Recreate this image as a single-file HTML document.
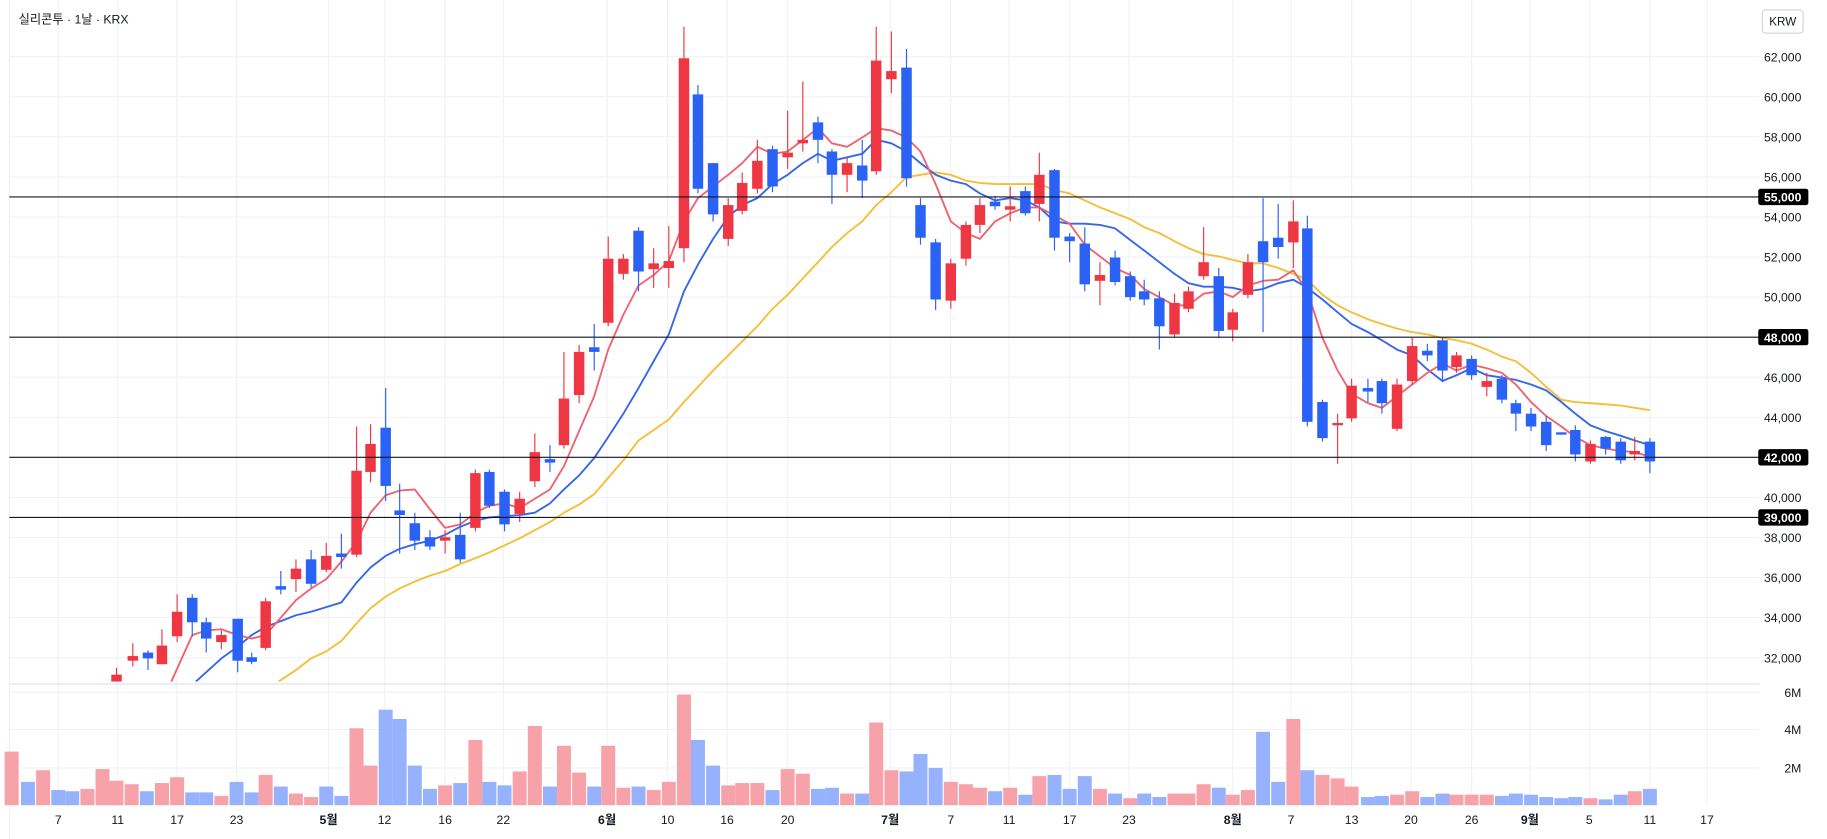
<!DOCTYPE html>
<html><head><meta charset="utf-8"><style>
html,body{margin:0;padding:0;background:#fff;}
svg{display:block;font-family:"Liberation Sans","Noto Sans CJK KR",sans-serif;}
</style></head><body>
<svg id="c" width="1827" height="839" viewBox="0 0 1568 720" preserveAspectRatio="none" xmlns="http://www.w3.org/2000/svg"></svg>
<script>
const s=document.getElementById('c');let h='';
const Y=p=>169+(55000-p)*0.01719;
// grid
h+='<rect x="0" y="0" width="1568" height="720" fill="#fff"/>';
const vx=[50,101,152,203,282,330,382,432,521,573,624,676,764,816,866,918,969,1058,1108,1160,1211,1263,1313,1364,1416,1465];
vx.forEach(x=>h+=`<line x1="${x}" y1="0" x2="${x}" y2="691" stroke="#f0f2f6"/>`);
for(let p=32000;p<=62000;p+=2000){const y=Y(p);h+=`<line x1="8" y1="${y}" x2="1510" y2="${y}" stroke="#f0f2f6"/>`;
h+=`<text x="1546" y="${y+4}" font-size="10.5" fill="#131722" text-anchor="end">${p.toLocaleString('en-US')}</text>`;}
[594,626,659].forEach((y,i)=>{h+=`<line x1="8" y1="${y}" x2="1510" y2="${y}" stroke="#f0f2f6"/>`;h+=`<text x="1546" y="${y+4}" font-size="10.5" fill="#131722" text-anchor="end">${6-2*i}M</text>`;});
h+='<line x1="8" y1="587" x2="1510" y2="587" stroke="#e0e3eb"/>';
h+='<line x1="8" y1="0" x2="8" y2="720" stroke="#f0f2f6"/>';
// volume
const V=[[10,645,1],[24,671,0],[37,661,1],[50,678,0],[62,679,0],[75,677,1],[88,660,1],[100,670,1],[113,673,1],[126,679,0],[139,672,1],[152,667,1],[165,680,0],[177,680,0],[190,683,1],[203,671,0],[216,680,0],[228,665,1],[241,675,0],[254,681,1],[267,684,1],[280,675,0],[293,683,0],[306,625,1],[318,657,1],[331,609,0],[343,617,0],[356,657,0],[369,677,0],[382,674,1],[395,672,0],[408,635,1],[420,671,0],[433,674,0],[446,662,1],[459,623,1],[472,675,0],[484,640,1],[497,663,1],[510,675,0],[522,640,1],[535,676,1],[548,675,0],[561,678,1],[574,671,1],[587,596,1],[599,635,0],[612,657,0],[625,674,1],[637,672,1],[650,672,1],[663,678,0],[676,660,1],[689,664,1],[702,677,0],[714,676,0],[727,681,1],[740,681,0],[752,620,1],[765,661,1],[778,662,0],[790,647,0],[803,659,0],[816,671,1],[829,673,1],[841,676,1],[854,679,0],[867,676,1],[880,682,0],[892,666,1],[905,665,0],[918,677,0],[931,666,0],[944,677,1],[957,681,0],[970,685,1],[982,681,0],[995,684,0],[1008,681,1],[1020,681,1],[1033,673,1],[1046,676,0],[1058,682,1],[1071,678,1],[1084,628,0],[1097,671,0],[1110,617,1],[1122,661,0],[1135,665,1],[1148,668,1],[1160,675,1],[1174,684,0],[1186,683,0],[1199,682,1],[1212,679,1],[1225,684,0],[1238,681,0],[1250,682,1],[1263,682,1],[1276,682,1],[1289,683,0],[1301,681,0],[1314,682,0],[1327,684,0],[1340,685,0],[1352,684,0],[1365,685,1],[1378,686,0],[1391,682,0],[1403,679,1],[1416,677,0]];
V.forEach(([x,y,r])=>h+=`<rect x="${x-6}" y="${y}" width="12" height="${691-y}" fill="${r?'#f7a1a9':'#97b2fc'}"/>`);
// MAs
const line=(pts,c)=>{h+=`<polyline fill="none" stroke="${c}" stroke-width="1.6" stroke-linejoin="round" points="${pts.map(p=>p.join(',')).join(' ')}" clip-path="url(#cp)"/>`;};
h+='<defs><clipPath id="cp"><rect x="0" y="0" width="1510" height="585"/></clipPath></defs>';
line([[239,585],[254,575],[267,565],[280,559],[293,550],[306,535],[318,522],[331,512],[343,505],[356,499],[369,494],[382,490],[395,484],[408,479],[420,474],[433,468],[446,462],[459,455],[472,448],[484,440],[497,433],[510,424],[522,410],[535,395],[548,378],[561,369],[574,360],[587,345],[599,332],[612,318],[625,305],[637,293],[650,280],[663,265],[676,253],[689,239],[702,225],[714,212],[727,200],[740,190],[752,176],[765,165],[778,152],[790,150],[803,148],[816,150],[829,155],[841,157],[854,158],[867,158],[880,158],[892,158],[905,163],[918,166],[931,172],[944,178],[957,183],[970,188],[982,195],[995,200],[1008,207],[1020,213],[1033,218],[1046,220],[1058,223],[1071,226],[1084,226],[1097,230],[1110,235],[1122,240],[1135,253],[1148,262],[1160,268],[1174,274],[1186,278],[1199,282],[1212,285],[1225,287],[1238,290],[1250,292],[1263,295],[1276,300],[1289,306],[1301,310],[1314,320],[1327,332],[1340,343],[1352,345],[1365,346],[1378,347],[1391,348],[1403,350],[1416,352]],'#f4bf35');
line([[168,585],[190,565],[204,555],[216,545],[228,538],[241,533],[254,528],[267,525],[280,521],[293,517],[306,500],[318,487],[331,477],[343,471],[356,467],[369,464],[382,459],[395,452],[408,447],[420,444],[433,443],[446,442],[459,440],[472,432],[484,420],[497,408],[510,393],[522,375],[535,355],[548,333],[561,310],[574,287],[587,250],[599,227],[612,205],[625,186],[637,176],[650,170],[663,158],[676,150],[689,140],[702,132],[714,138],[727,135],[740,132],[752,120],[765,123],[778,130],[790,140],[803,150],[816,155],[829,158],[841,166],[854,172],[867,170],[880,172],[892,178],[905,190],[918,192],[931,192],[944,193],[957,196],[970,206],[982,215],[995,225],[1008,235],[1020,243],[1033,246],[1046,246],[1058,247],[1071,250],[1084,248],[1097,243],[1110,240],[1122,247],[1135,257],[1148,268],[1160,278],[1174,285],[1186,292],[1199,300],[1212,305],[1225,317],[1238,327],[1250,322],[1263,316],[1276,322],[1289,324],[1301,326],[1314,330],[1327,335],[1340,345],[1352,355],[1365,365],[1378,370],[1391,374],[1403,378],[1416,382]],'#3566e8');
line([[147,585],[165,545],[177,541],[190,540],[204,545],[216,548],[228,545],[241,530],[254,515],[267,505],[280,497],[293,482],[306,465],[318,440],[331,425],[343,421],[356,420],[369,437],[382,453],[395,450],[408,440],[420,434],[433,432],[446,436],[459,428],[472,420],[484,400],[497,370],[510,340],[522,300],[535,270],[548,245],[561,236],[574,224],[587,190],[599,170],[612,160],[625,150],[637,140],[650,126],[663,132],[676,130],[689,120],[702,110],[714,123],[727,126],[740,118],[752,110],[765,112],[778,118],[790,130],[803,158],[816,190],[829,200],[841,205],[854,190],[867,183],[880,178],[892,178],[905,185],[918,192],[931,210],[944,220],[957,230],[970,236],[982,248],[995,255],[1008,262],[1020,262],[1033,252],[1046,250],[1058,255],[1071,245],[1084,241],[1097,240],[1110,232],[1122,250],[1135,290],[1148,318],[1160,338],[1174,346],[1186,350],[1199,340],[1212,330],[1225,320],[1238,312],[1250,318],[1263,313],[1276,316],[1289,320],[1301,330],[1314,345],[1327,357],[1340,366],[1352,375],[1365,382],[1378,385],[1391,387],[1403,388],[1416,392]],'#ee6370');
// candles [x,bodyTop,bodyBot,wickTop,wickBot,red]
const C=[[100,579,585,573,585,1],[114,563,567,552,572,1],[127,560,565,558,575,0],[139,554,570,540,570,1],[152,525,546,510,551,1],[165,513,534,510,546,0],[177,534,548,530,560,0],[190,545,551,541,557,1],[204,531,567,531,577,0],[216,564,568,560,570,0],[228,516,556,513,558,1],[241,503,506,490,510,0],[254,488,497,480,508,1],[267,480,501,472,504,0],[280,477,489,466,491,1],[293,475,478,458,488,0],[306,404,476,366,478,1],[318,381,405,364,414,1],[331,367,417,333,430,0],[343,438,442,415,475,0],[356,449,464,440,472,0],[369,461,469,455,472,0],[382,461,464,455,475,1],[395,459,480,440,483,0],[408,406,453,403,456,1],[420,405,434,403,436,0],[433,422,450,420,456,0],[446,428,441,422,448,1],[459,388,413,372,418,1],[472,394,397,382,405,0],[484,342,382,302,385,1],[497,302,339,296,346,1],[510,298,302,278,318,0],[522,222,277,203,280,1],[535,222,235,218,240,1],[548,198,233,195,250,0],[561,226,231,213,247,1],[574,224,230,194,247,1],[587,50,213,23,225,1],[599,81,162,73,166,0],[612,140,184,140,190,0],[625,176,205,170,211,1],[637,157,181,148,184,1],[650,138,162,120,166,1],[663,128,160,125,165,0],[676,131,135,95,145,1],[689,120,123,70,130,1],[702,105,120,100,140,0],[714,130,150,128,175,0],[727,140,150,135,165,1],[740,142,155,120,170,0],[752,52,147,23,150,1],[765,61,68,27,80,1],[778,58,153,42,160,0],[790,176,204,170,210,0],[803,208,257,205,266,0],[816,226,258,222,265,1],[829,193,222,190,228,1],[841,176,193,170,200,1],[854,173,177,168,180,0],[867,177,180,160,190,1],[880,164,183,160,185,0],[892,150,175,131,190,1],[905,146,204,145,215,0],[918,203,207,200,225,0],[931,209,244,195,250,0],[944,236,241,225,262,1],[957,221,242,215,245,0],[970,237,255,233,258,0],[982,250,257,240,262,0],[995,256,280,250,300,0],[1008,260,287,252,290,1],[1020,250,265,246,268,1],[1033,225,237,195,240,1],[1046,237,284,230,290,0],[1058,268,283,265,293,1],[1071,225,253,218,256,1],[1084,207,225,170,285,0],[1097,204,212,175,222,0],[1110,190,208,172,230,1],[1122,196,362,185,366,0],[1135,345,376,343,379,0],[1148,363,365,355,398,1],[1160,331,359,325,362,1],[1174,333,336,325,345,0],[1186,327,346,325,355,0],[1199,330,368,325,370,1],[1212,297,327,290,330,1],[1225,301,305,295,310,0],[1238,292,318,290,328,0],[1250,305,315,302,320,1],[1263,308,322,305,326,0],[1276,327,332,320,340,1],[1289,325,343,322,346,0],[1301,346,355,343,370,0],[1314,355,366,350,370,0],[1327,362,382,357,387,0],[1340,371,373,371,373,0],[1352,369,390,365,396,0],[1365,381,396,378,398,1],[1378,375,385,374,390,0],[1391,379,395,376,398,0],[1403,387,390,375,395,1],[1416,379,396,376,406,0]];
let cs='<g clip-path="url(#cp)">';
C.forEach(([x,t,b,wt,wb,r])=>{const c=r?'#ef3744':'#2a62f5';cs+=`<line x1="${x}" y1="${wt}" x2="${x}" y2="${wb}" stroke="${c}" stroke-width="1"/><rect x="${x-4.5}" y="${t}" width="9" height="${Math.max(b-t,2)}" fill="${c}"/>`;});
h+=cs+'</g>';
// horizontal levels
[[55000,'55,000'],[48000,'48,000'],[42000,'42,000'],[39000,'39,000']].forEach(([p,l])=>{const y=Y(p);
h+=`<line x1="8" y1="${y}" x2="1510" y2="${y}" stroke="#131722" stroke-width="1"/>`;
h+=`<rect x="1509" y="${y-7}" width="43" height="14" rx="2" fill="#000"/><text x="1546" y="${y+4}" font-size="10.5" font-weight="bold" fill="#fff" text-anchor="end">${l}</text>`;});
// x labels
const XL=[[50,'7'],[101,'11'],[152,'17'],[203,'23'],[282,'5월',1],[330,'12'],[382,'16'],[432,'22'],[521,'6월',1],[573,'10'],[624,'16'],[676,'20'],[764,'7월',1],[816,'7'],[866,'11'],[918,'17'],[969,'23'],[1058,'8월',1],[1108,'7'],[1160,'13'],[1211,'20'],[1263,'26'],[1313,'9월',1],[1364,'5'],[1416,'11'],[1465,'17']];
XL.forEach(([x,t,b])=>h+=`<text x="${x}" y="707" font-size="10.5" fill="#131722" text-anchor="middle" ${b?'font-weight="bold"':''}>${t}</text>`);
h+='<text x="16" y="20" font-size="10.5" fill="#131722">실리콘투 · 1날 · KRX</text>';
h+='<rect x="1512.5" y="8.5" width="35" height="20" rx="3" fill="#fff" stroke="#d1d4dc"/><text x="1530" y="22" font-size="10" fill="#131722" text-anchor="middle">KRW</text>';
s.innerHTML=h;
</script>
</body></html>
